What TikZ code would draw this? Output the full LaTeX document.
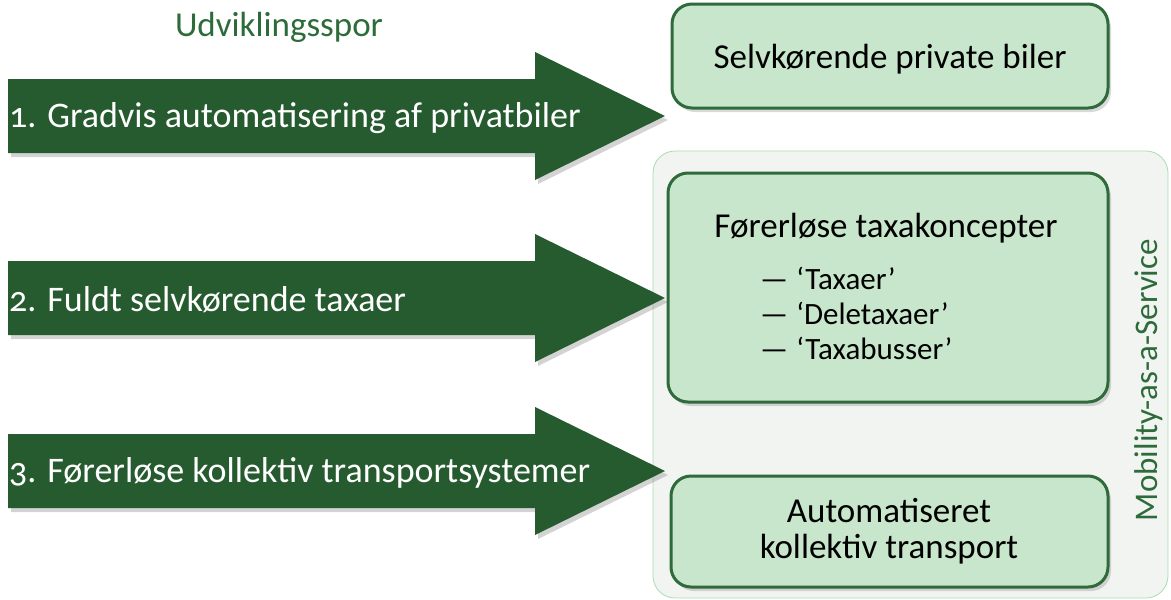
\documentclass[tikz,border=0pt]{standalone}
\usepackage{fontspec}
\setmainfont{Carlito}[Numbers=OldStyle]
\usetikzlibrary{shadows,positioning}
\definecolor{arrowgreen}{HTML}{265B30}
\definecolor{boxfill}{HTML}{C8E6CC}
\definecolor{boxline}{HTML}{2F6A3A}
\definecolor{titlegreen}{HTML}{2E6B3A}
\definecolor{maasfill}{HTML}{F2F4F2}
\definecolor{maasline}{HTML}{A8DDB0}
\tikzset{
  bigarrow/.style={fill=arrowgreen, draw=none, drop shadow={shadow xshift=3pt, shadow yshift=-4pt, opacity=0.35}},
  arrowtext/.style={text=white, anchor=west, inner sep=0pt, font=\fontsize{36}{40}\selectfont},
  greenbox/.style={draw=boxline, line width=3pt, fill=boxfill, rounded corners=20pt, drop shadow={shadow xshift=3pt, shadow yshift=-4pt, opacity=0.3}},
  boxtext/.style={text=black, align=center, inner sep=0pt, font=\fontsize{35}{36}\selectfont},
  bullettext/.style={text=black, anchor=west, inner sep=0pt, font=\fontsize{31}{34}\selectfont},
}
\begin{document}
\begin{tikzpicture}[x=1pt,y=-1pt]
\useasboundingbox (0,0) rectangle (1171,600);
% MaaS container
\draw[fill=maasfill, draw=maasline, line width=0.8pt, rounded corners=22pt] (653,151) rectangle (1168,598);
\node[rotate=90, text=titlegreen, inner sep=0pt, font=\fontsize{33}{36}\selectfont] (maas) at (1149,380) {Mobility-as-a-Service};
% title
\node[text=titlegreen, inner sep=0pt, font=\fontsize{35}{40}\selectfont] (title) at (279,27) {Udviklingsspor};
% arrows
\foreach \cy in {116,298,471}{
  \path[bigarrow] (8,\cy-37) -- (535,\cy-37) -- (535,\cy-64) -- (665,\cy) -- (535,\cy+64) -- (535,\cy+37) -- (8,\cy+37) -- cycle;
}
\node[arrowtext] (a1) at (9,118) {1. Gradvis automatisering af privatbiler};
\node[arrowtext] (a2) at (9,300) {2. Fuldt selvkørende taxaer};
\node[arrowtext] (a3) at (9,473) {3. Førerløse kollektiv transportsystemer};
% boxes
\draw[greenbox] (672,4) rectangle (1108,108);
\node[boxtext] (b1) at (890,59) {Selvkørende private biler};
\draw[greenbox] (668,173) rectangle (1108,402);
\node[boxtext] (b2) at (886,228) {Førerløse taxakoncepter};
\node[bullettext] (t1) at (760,278) {—\hspace{8pt}‘Taxaer’};
\node[bullettext] (t2) at (760,313) {—\hspace{8pt}‘Deletaxaer’};
\node[bullettext] (t3) at (760,348) {—\hspace{8pt}‘Taxabusser’};
\draw[greenbox] (671,476) rectangle (1108,587);
\node[boxtext] (b3) at (889,531) {Automatiseret\\kollektiv transport};
\end{tikzpicture}
\end{document}
